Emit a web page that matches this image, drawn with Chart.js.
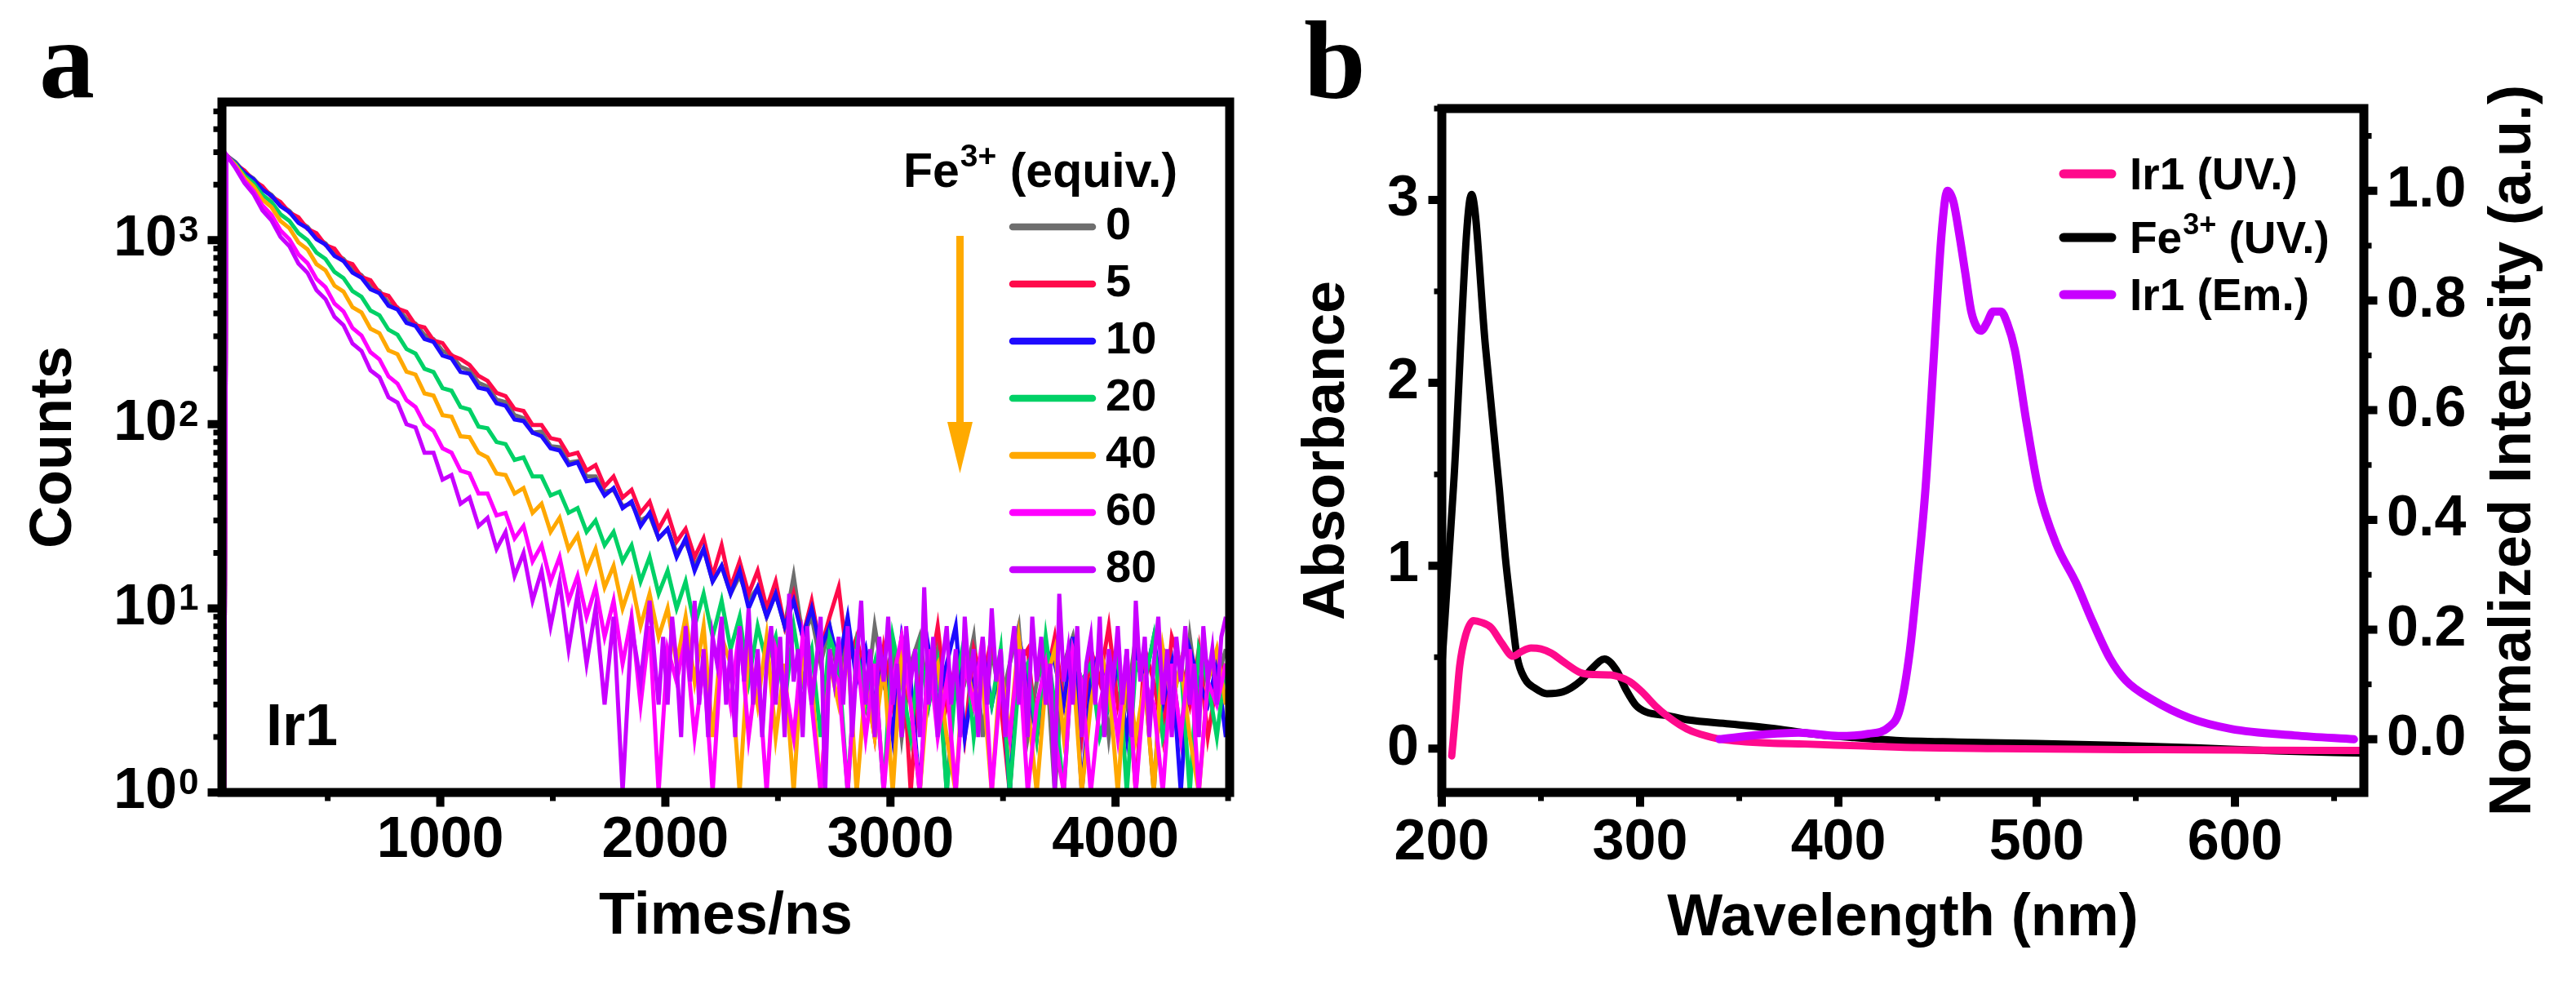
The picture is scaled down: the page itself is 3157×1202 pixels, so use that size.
<!DOCTYPE html>
<html>
<head>
<meta charset="utf-8">
<script src="https://cdn.jsdelivr.net/npm/chart.js@4.4.0/dist/chart.umd.min.js"></script>
<style>
  html, body { margin: 0; padding: 0; background: #fff; }
  body { width: 3157px; height: 1202px; position: relative; overflow: hidden; }
  canvas { position: absolute; top: 0; }
  #decay { left: 0; }
  #spectra { left: 1560px; }
</style>
</head>
<body>
<canvas id="decay" width="1560" height="1202"></canvas>
<canvas id="spectra" width="1597" height="1202"></canvas>
<script>
// ---- panel a: emission decay of Ir1 with Fe3+ ----
const times = [40, 50, 90, 130, 170, 210, 250, 290, 330, 370, 410, 450, 490, 530, 570, 610, 650, 690, 730, 770,
  810, 850, 890, 930, 970, 1010, 1050, 1090, 1130, 1170, 1210, 1250, 1290, 1330, 1370, 1410, 1450, 1490, 1530, 1570,
  1610, 1650, 1690, 1730, 1770, 1810, 1850, 1890, 1930, 1970, 2010, 2050, 2090, 2130, 2170, 2210, 2250, 2290, 2330, 2370,
  2410, 2450, 2490, 2530, 2570, 2610, 2650, 2690, 2730, 2770, 2810, 2850, 2890, 2930, 2970, 3010, 3050, 3090, 3130, 3170,
  3210, 3250, 3290, 3330, 3370, 3410, 3450, 3490, 3530, 3570, 3610, 3650, 3690, 3730, 3770, 3810, 3850, 3890, 3930, 3970,
  4010, 4050, 4090, 4130, 4170, 4210, 4250, 4290, 4330, 4370, 4410, 4450, 4490];

// the 80 equiv. trace is read on a finer time grid in its noisy tail (it lies on top of the others)
const times80 = [40, 50, 90, 130, 170, 210, 250, 290, 330, 370, 410, 450, 490, 530, 570, 610, 650, 690, 730, 770,
  810, 850, 890, 930, 970, 1010, 1050, 1090, 1130, 1170, 1210, 1250, 1290, 1330, 1370, 1410, 1450, 1490, 1530, 1570,
  1610, 1650, 1690, 1730, 1770, 1810, 1850, 1890, 1930, 1970,
  1990, 2010, 2030, 2050, 2070, 2090, 2110, 2130, 2150, 2170, 2190, 2210, 2230, 2250, 2270, 2290, 2310, 2330, 2350, 2370,
  2390, 2410, 2430, 2450, 2470, 2490, 2510, 2530, 2550, 2570, 2590, 2610, 2630, 2650, 2670, 2690, 2710, 2730, 2750, 2770,
  2790, 2810, 2830, 2850, 2870, 2890, 2910, 2930, 2950, 2970, 2990, 3010, 3030, 3050, 3070, 3090, 3110, 3130, 3150, 3170,
  3190, 3210, 3230, 3250, 3270, 3290, 3310, 3330, 3350, 3370, 3390, 3410, 3430, 3450, 3470, 3490, 3510, 3530, 3550, 3570,
  3590, 3610, 3630, 3650, 3670, 3690, 3710, 3730, 3750, 3770, 3790, 3810, 3830, 3850, 3870, 3890, 3910, 3930, 3950, 3970,
  3990, 4010, 4030, 4050, 4070, 4090, 4110, 4130, 4150, 4170, 4190, 4210, 4230, 4250, 4270, 4290, 4310, 4330, 4350, 4370,
  4390, 4410, 4430, 4450, 4470, 4490];

const feEquiv = ['0', '5', '10', '20', '40', '60', '80'];

const counts0 = [1,
  2880, 2650, 2330, 2160, 1900, 1760, 1550, 1440, 1270, 1180,
  1030, 960, 840, 790, 690, 645, 560, 530, 455, 430,
  372, 352, 305, 290, 250, 238, 205, 196, 168, 160,
  136, 132, 112, 108, 90, 91, 76, 75, 62, 63,
  52, 52, 43, 44, 36, 37, 30, 32, 24, 27,
  20, 23, 17, 21, 14, 17, 12, 15, 11, 13,
  9, 12, 8, 15, 7, 9, 5, 8, 4, 7, 5,
  3, 8, 4, 6, 2, 5, 7, 3, 6, 1, 5, 4, 7, 2, 6, 3, 5, 8, 2, 4, 6, 1, 5, 7, 3, 4, 6, 2, 5, 3, 7, 4, 1, 6, 5, 2, 7, 3, 5, 4, 6];
const counts5 = [1,
  2900, 2580, 2390, 2110, 1960, 1720, 1610, 1410, 1330, 1150,
  1090, 940, 900, 770, 740, 630, 605, 515, 498, 425,
  408, 345, 335, 285, 276, 236, 226, 210, 183, 172,
  148, 142, 121, 118, 99, 99, 84, 82, 68, 70,
  56, 60, 46, 52, 40, 44, 33, 38, 27, 33,
  23, 27, 19, 24, 15, 22, 13, 18, 12, 16,
  10, 14, 8, 12, 7, 11, 6, 9, 13, 5, 7,
  4, 2, 6, 3, 7, 1, 5, 4, 8, 3, 5, 2, 6, 4, 7, 3, 1, 5, 6, 2, 4, 7, 3, 5, 2, 6, 4, 8, 3, 5, 1, 6, 4, 2, 7, 5, 3, 6, 2, 4, 5];
const counts10 = [1,
  2870, 2620, 2320, 2140, 1880, 1740, 1530, 1420, 1240, 1160,
  1010, 945, 820, 770, 665, 625, 540, 515, 440, 420,
  355, 342, 290, 280, 236, 228, 192, 188, 158, 154,
  130, 126, 106, 104, 90, 86, 74, 72, 60, 62,
  49, 50, 41, 45, 35, 38, 28, 33, 24, 27,
  19, 24, 16, 21, 14, 17, 12, 16, 10, 13,
  9, 12, 8, 11, 7, 10, 6, 8, 5, 9, 4,
  6, 3, 5, 2, 7, 4, 1, 6, 3, 5, 8, 2, 4, 6, 3, 5, 1, 7, 4, 2, 6, 5, 3, 7, 1, 4, 6, 3, 5, 2, 6, 4, 7, 3, 5, 1, 6, 4, 3, 5, 2];
const counts20 = [1,
  2870, 2590, 2240, 2040, 1760, 1610, 1380, 1270, 1090, 1000,
  855, 790, 672, 622, 528, 492, 414, 390, 326, 306,
  256, 242, 200, 192, 157, 152, 124, 120, 97, 95,
  80, 78, 64, 66, 52, 52, 41, 43, 33, 35,
  26, 30, 22, 26, 18, 22, 14, 19, 12, 16,
  10, 14, 8, 12, 7, 11, 6, 9, 4, 8,
  5, 7, 3, 8, 4, 6, 2, 7, 5, 1, 6,
  3, 5, 1, 7, 4, 2, 6, 3, 5, 1, 4, 7, 2, 5, 3, 6, 1, 4, 5, 2, 7, 3, 1, 6, 4, 5, 2, 3, 6, 1, 5, 4, 7, 2, 3, 5, 1, 6, 4, 2, 5];
const counts40 = [1,
  2880, 2550, 2180, 1960, 1660, 1510, 1270, 1160, 970, 890,
  740, 685, 565, 525, 432, 405, 330, 312, 252, 240,
  193, 186, 147, 143, 112, 110, 86, 85, 70, 66,
  54, 53, 42, 45, 33, 37, 26, 31, 21, 25,
  16, 21, 13, 17, 10, 14, 8, 12, 7, 10,
  5, 9, 4, 8, 2, 7, 5, 1, 6, 3,
  7, 2, 5, 1, 6, 4, 1, 5, 3, 6, 1,
  4, 2, 5, 1, 6, 3, 1, 4, 5, 2, 1, 6, 3, 4, 1, 5, 2, 7, 3, 1, 4, 6, 2, 5, 1, 3, 6, 4, 1, 5, 2, 4, 1, 6, 3, 5, 2, 1, 4, 6, 3];
const counts60 = [1,
  2890, 2500, 2100, 1850, 1540, 1370, 1130, 1010, 835, 750,
  615, 555, 452, 410, 333, 303, 246, 225, 182, 166,
  135, 124, 100, 92, 74, 70, 56, 54, 42, 42,
  32, 33, 24, 28, 18, 22, 14, 19, 11, 15,
  9, 13, 7, 11, 5, 9, 3, 8, 1, 6,
  4, 7, 2, 5, 1, 6, 3, 8, 2, 5,
  1, 6, 4, 2, 7, 3, 1, 5, 4, 1, 6,
  2, 5, 1, 4, 7, 3, 1, 6, 2, 4, 1, 5, 3, 7, 1, 4, 2, 6, 1, 3, 5, 2, 1, 6, 4, 1, 3, 5, 2, 6, 1, 4, 3, 1, 5, 2, 6, 1, 4, 3, 5];
const counts80 = [1,
  2900, 2460, 2040, 1780, 1450, 1280, 1040, 925, 745, 665,
  535, 478, 383, 345, 274, 250, 196, 180, 140, 131,
  100, 96, 70, 70, 50, 53, 37, 40, 28, 31,
  21, 26, 15, 20, 11, 16, 8, 14, 6, 12,
  5, 10, 3, 9, 1, 8, 4, 11, 3,
  7, 3, 9, 5, 2, 8, 4, 11, 3, 6,
  2, 7, 5, 9, 3, 6, 2, 8, 4, 10,
  3, 6, 2, 5, 8, 3, 7, 2, 12, 4,
  6, 2, 8, 3, 5, 9, 1, 6, 4, 7,
  3, 8, 2, 5, 11, 3, 6, 2, 7, 4,
  9, 3, 5, 2, 8, 4, 6, 2, 13, 3,
  7, 2, 5, 8, 3, 6, 2, 9, 4, 6,
  2, 7, 3, 10, 4, 6, 2, 5, 8, 3,
  6, 2, 9, 4, 7, 3, 5, 1, 12, 4,
  6, 3, 8, 2, 5, 7, 3, 9, 2, 6,
  4, 8, 3, 6, 2, 11, 4, 7, 2, 5,
  9, 3, 6, 2, 7, 4, 8, 3, 5, 2,
  8, 4, 6, 3, 7, 9];

const decaySeries = [counts0, counts5, counts10, counts20, counts40, counts60, counts80];
const decayTimes = [times, times, times, times, times, times, times80];
const decayColors = ['#6E6E6E', '#FF0A4A', '#1E0AFF', '#00D166', '#FFA800', '#FF00FF', '#C800FF'];

const timeTicks = [1000, 2000, 3000, 4000];
const timeMinor = [500, 1500, 2500, 3500, 4500];
const countTicks = [1, 10, 100, 1000];
const countMinor = [2, 3, 4, 5, 6, 7, 8, 9, 20, 30, 40, 50, 60, 70, 80, 90,
  200, 300, 400, 500, 600, 700, 800, 900, 2000, 3000, 4000, 5000];

// ---- panel b: absorption and emission spectra ----
const irUvWl = [205, 207, 209, 212, 216, 220, 225, 230, 236, 240, 245, 250, 255, 262, 270, 277, 285, 290, 295, 301,
  308, 314, 320, 326, 331, 336, 341, 350, 365, 383, 410, 440, 480, 520, 560, 600, 640, 665];
const irUvAbs = [-0.04, 0.2, 0.45, 0.62, 0.7, 0.69, 0.66, 0.58, 0.505, 0.53, 0.55, 0.545, 0.523, 0.47, 0.415, 0.405, 0.403, 0.39, 0.365, 0.31,
  0.23, 0.175, 0.13, 0.095, 0.077, 0.062, 0.051, 0.04, 0.03, 0.025, 0.015, 0.005, 0.0, -0.004, -0.006, -0.008, -0.01, -0.01];

const feUvWl = [200, 206, 215, 222, 229, 232, 235, 238, 242, 247, 253, 261, 270, 276, 282, 288, 293, 298, 303, 314,
  324, 345, 366, 387, 408, 429, 460, 500, 540, 580, 620, 665];
const feUvAbs = [0.45, 1.45, 3.03, 2.2, 1.42, 1.05, 0.76, 0.5, 0.38, 0.33, 0.3, 0.31, 0.37, 0.44, 0.49, 0.43, 0.32, 0.235, 0.2, 0.18,
  0.157, 0.135, 0.112, 0.08, 0.06, 0.045, 0.036, 0.028, 0.018, 0.004, -0.012, -0.025];

const irEmWl = [340, 360, 380, 400, 415, 425, 431, 436, 440, 444, 448, 452, 455, 458, 461, 464, 467, 470, 472, 475,
  478, 482, 485, 489, 495, 501, 510, 520, 528, 537, 545, 558, 577, 598, 630, 660];
const irEmInt = [0.0, 0.008, 0.012, 0.006, 0.01, 0.021, 0.055, 0.16, 0.3, 0.46, 0.69, 0.92, 1.0, 0.98, 0.92, 0.85, 0.78, 0.75, 0.745, 0.76,
  0.78, 0.78, 0.76, 0.71, 0.575, 0.455, 0.355, 0.284, 0.216, 0.147, 0.107, 0.073, 0.039, 0.019, 0.007, 0.0];

const spectraLabels = ['Ir1 (UV.)', 'Fe3+ (UV.)', 'Ir1 (Em.)'];
const spectraColors = ['#FF0A8C', '#000000', '#C800FF'];

const wlTicks = [200, 300, 400, 500, 600];
const wlMinor = [250, 350, 450, 550, 650];
const absTicks = [0, 1, 2, 3];
const absMinor = [0.5, 1.5, 2.5, 3.5];
const emTicks = [0, 0.2, 0.4, 0.6, 0.8, 1.0];
const emMinor = [0.1, 0.3, 0.5, 0.7, 0.9, 1.1];

// ---- drawing helpers ----
const FONT = '"Liberation Sans", Arial, sans-serif';
const FRAME = 11;
Chart.defaults.font.family = FONT;
Chart.defaults.color = '#000';

function drawFrame(chart) {
  const { ctx, chartArea: a } = chart;
  ctx.save();
  ctx.strokeStyle = '#000';
  ctx.lineWidth = FRAME;
  ctx.strokeRect(a.left, a.top, a.right - a.left, a.bottom - a.top);
  ctx.restore();
}

function drawTicks(chart, id, side, values, len, width) {
  const { ctx, chartArea: a } = chart;
  const s = chart.scales[id];
  ctx.save();
  ctx.strokeStyle = '#000';
  ctx.lineWidth = width;
  ctx.beginPath();
  values.forEach(v => {
    const p = s.getPixelForValue(v);
    if (side === 'left') { ctx.moveTo(a.left, p); ctx.lineTo(a.left - FRAME / 2 - len, p); }
    else if (side === 'right') { ctx.moveTo(a.right, p); ctx.lineTo(a.right + FRAME / 2 + len, p); }
    else { ctx.moveTo(p, a.bottom); ctx.lineTo(p, a.bottom + FRAME / 2 + len); }
  });
  ctx.stroke();
  ctx.restore();
}

// "Fe" + superscript "3+" + rest, alphabetic baseline at y
function drawFe(ctx, x, y, size, rest) {
  ctx.font = `bold ${size}px ${FONT}`;
  ctx.fillText('Fe', x, y);
  x += ctx.measureText('Fe').width + 1;
  ctx.font = `bold ${Math.round(size * 0.66)}px ${FONT}`;
  ctx.fillText('3+', x, y - size * 0.42);
  x += ctx.measureText('3+').width;
  ctx.font = `bold ${size}px ${FONT}`;
  ctx.fillText(rest, x, y);
}

function legendLine(ctx, x0, x1, y, color, width) {
  ctx.strokeStyle = color;
  ctx.lineWidth = width;
  ctx.lineCap = 'round';
  ctx.beginPath();
  ctx.moveTo(x0, y);
  ctx.lineTo(x1, y);
  ctx.stroke();
}

const decayDeco = {
  id: 'decayDeco',
  afterDraw(chart) {
    const { ctx } = chart;
    drawFrame(chart);
    drawTicks(chart, 'y', 'left', countTicks, 12, 10);
    drawTicks(chart, 'y', 'left', countMinor, 5, 7);
    drawTicks(chart, 'x', 'bottom', timeTicks, 12, 10);
    drawTicks(chart, 'x', 'bottom', timeMinor, 5, 7);

    ctx.save();
    ctx.fillStyle = '#000';
    // exponents of the 10^n labels
    const ys = chart.scales.y;
    ctx.font = `bold 44px ${FONT}`;
    ctx.textAlign = 'left';
    ctx.textBaseline = 'alphabetic';
    countTicks.forEach(v => {
      ctx.fillText(String(Math.round(Math.log10(v))), 219, ys.getPixelForValue(v) + 2);
    });

    // legend
    drawFe(ctx, 1107, 229, 59, ' (equiv.)');
    const rows = [278, 348, 418, 488, 558, 628, 698];
    chart.data.datasets.forEach((ds, i) => {
      legendLine(ctx, 1241, 1339, rows[i], ds.borderColor, 8.5);
      ctx.fillStyle = '#000';
      ctx.font = `bold 56px ${FONT}`;
      ctx.fillText(ds.label, 1355, rows[i] + 15);
    });

    // arrow
    ctx.fillStyle = '#FFAA00';
    ctx.fillRect(1172, 289, 9, 230);
    ctx.beginPath();
    ctx.moveTo(1161, 517);
    ctx.lineTo(1192, 517);
    ctx.lineTo(1176.5, 580);
    ctx.closePath();
    ctx.fill();

    ctx.fillStyle = '#000';
    ctx.font = `bold 72px ${FONT}`;
    ctx.fillText('Ir1', 326, 913);

    ctx.font = 'bold 136px "Liberation Serif", "Times New Roman", serif';
    ctx.fillText('a', 48, 119);
    ctx.restore();
  }
};

const spectraDeco = {
  id: 'spectraDeco',
  afterDraw(chart) {
    const { ctx, chartArea: a } = chart;
    drawFrame(chart);
    drawTicks(chart, 'y', 'left', absTicks, 11, 10);
    drawTicks(chart, 'y', 'left', absMinor, 4, 7);
    drawTicks(chart, 'y2', 'right', emTicks, 11, 10);
    drawTicks(chart, 'y2', 'right', emMinor, 4, 7);
    drawTicks(chart, 'x', 'bottom', wlTicks, 12, 10);
    drawTicks(chart, 'x', 'bottom', wlMinor, 5, 7);

    ctx.save();
    // legend
    const rows = [213, 291, 361];
    chart.data.datasets.forEach((ds, i) => {
      legendLine(ctx, 969, 1028, rows[i], ds.borderColor, 11);
      ctx.fillStyle = '#000';
      ctx.textAlign = 'left';
      ctx.textBaseline = 'alphabetic';
      if (ds.label.startsWith('Fe3+')) {
        drawFe(ctx, 1050, rows[i] + 19, 55, ds.label.slice(4));
      } else {
        ctx.font = `bold 55px ${FONT}`;
        ctx.fillText(ds.label, 1050, rows[i] + 19);
      }
    });

    // right axis title, reading bottom to top
    ctx.fillStyle = '#000';
    ctx.font = `bold 72px ${FONT}`;
    ctx.translate(1521, (a.top + a.bottom) / 2);
    ctx.rotate(-Math.PI / 2);
    ctx.textAlign = 'center';
    ctx.textBaseline = 'middle';
    ctx.fillText('Normalized Intensity (a.u.)', 0, 0);
    ctx.restore();

    ctx.save();
    ctx.fillStyle = '#000';
    ctx.font = 'bold 136px "Liberation Serif", "Times New Roman", serif';
    ctx.fillText('b', 38, 119);
    ctx.restore();
  }
};

const tickFont = { family: FONT, size: 70, weight: 'bold' };
const titleFont = { family: FONT, size: 72, weight: 'bold' };

new Chart(document.getElementById('decay'), {
  type: 'line',
  data: {
    datasets: decaySeries.map((vals, i) => ({
      label: feEquiv[i],
      data: vals.map((c, j) => ({ x: decayTimes[i][j], y: c })),
      borderColor: decayColors[i],
      borderWidth: 5,
      pointRadius: 0,
      tension: 0,
      order: decaySeries.length - i
    }))
  },
  options: {
    responsive: false,
    animation: false,
    devicePixelRatio: 1,
    layout: { padding: { top: 125, right: 53, left: 0, bottom: 0 } },
    plugins: { legend: { display: false }, tooltip: { enabled: false } },
    scales: {
      x: {
        type: 'linear', min: 30, max: 4507,
        afterBuildTicks: s => { s.ticks = timeTicks.map(v => ({ value: v })); },
        afterFit: s => { s.height = 231; },
        grid: { display: false, drawTicks: false },
        border: { display: false },
        ticks: { autoSkip: false, maxRotation: 0, padding: 18, color: '#000', font: tickFont, callback: v => String(v) },
        title: { display: true, text: 'Times/ns', color: '#000', font: titleFont, padding: { top: 0, bottom: 35 } }
      },
      y: {
        type: 'logarithmic', min: 1, max: 5620,
        afterBuildTicks: s => { s.ticks = countTicks.map(v => ({ value: v })); },
        afterFit: s => { s.width = 272; },
        grid: { display: false, drawTicks: false },
        border: { display: false },
        ticks: { autoSkip: false, padding: 55, color: '#000', font: tickFont, callback: () => '10' },
        title: { display: true, text: 'Counts', color: '#000', font: titleFont, padding: { top: 24, bottom: 0 } }
      }
    }
  },
  plugins: [decayDeco]
});

const spectraX = [irUvWl, feUvWl, irEmWl];
const spectraY = [irUvAbs, feUvAbs, irEmInt];
new Chart(document.getElementById('spectra'), {
  type: 'line',
  data: {
    datasets: spectraLabels.map((lab, i) => ({
      label: lab,
      data: spectraX[i].map((w, j) => ({ x: w, y: spectraY[i][j] })),
      yAxisID: i === 2 ? 'y2' : 'y',
      borderColor: spectraColors[i],
      borderWidth: [9, 9, 10][i],
      borderCapStyle: 'round',
      pointRadius: 0,
      cubicInterpolationMode: 'monotone',
      order: [2, 3, 1][i]
    }))
  },
  options: {
    responsive: false,
    animation: false,
    devicePixelRatio: 1,
    layout: { padding: { top: 133, right: 0, left: 0, bottom: 0 } },
    plugins: { legend: { display: false }, tooltip: { enabled: false } },
    scales: {
      x: {
        type: 'linear', min: 200, max: 665,
        afterBuildTicks: s => { s.ticks = wlTicks.map(v => ({ value: v })); },
        afterFit: s => { s.height = 231; },
        grid: { display: false, drawTicks: false },
        border: { display: false },
        ticks: { autoSkip: false, maxRotation: 0, padding: 21, color: '#000', font: tickFont, callback: v => String(v) },
        title: { display: true, text: 'Wavelength (nm)', color: '#000', font: titleFont, padding: { top: 0, bottom: 33 } }
      },
      y: {
        type: 'linear', position: 'left', min: -0.24, max: 3.5,
        afterBuildTicks: s => { s.ticks = absTicks.map(v => ({ value: v })); },
        afterFit: s => { s.width = 207; },
        grid: { display: false, drawTicks: false },
        border: { display: false },
        ticks: { autoSkip: false, padding: 28, color: '#000', font: tickFont, callback: v => String(v) },
        title: { display: true, text: 'Absorbance', color: '#000', font: titleFont, padding: { top: 24, bottom: 0 } }
      },
      y2: {
        type: 'linear', position: 'right', min: -0.097, max: 1.15,
        afterBuildTicks: s => { s.ticks = emTicks.map(v => ({ value: v })); },
        afterFit: s => { s.width = 260; },
        grid: { display: false, drawTicks: false },
        border: { display: false },
        ticks: { autoSkip: false, padding: 28, color: '#000', font: tickFont, callback: v => v.toFixed(1) },
        title: { display: false }
      }
    }
  },
  plugins: [spectraDeco]
});
</script>
</body>
</html>
